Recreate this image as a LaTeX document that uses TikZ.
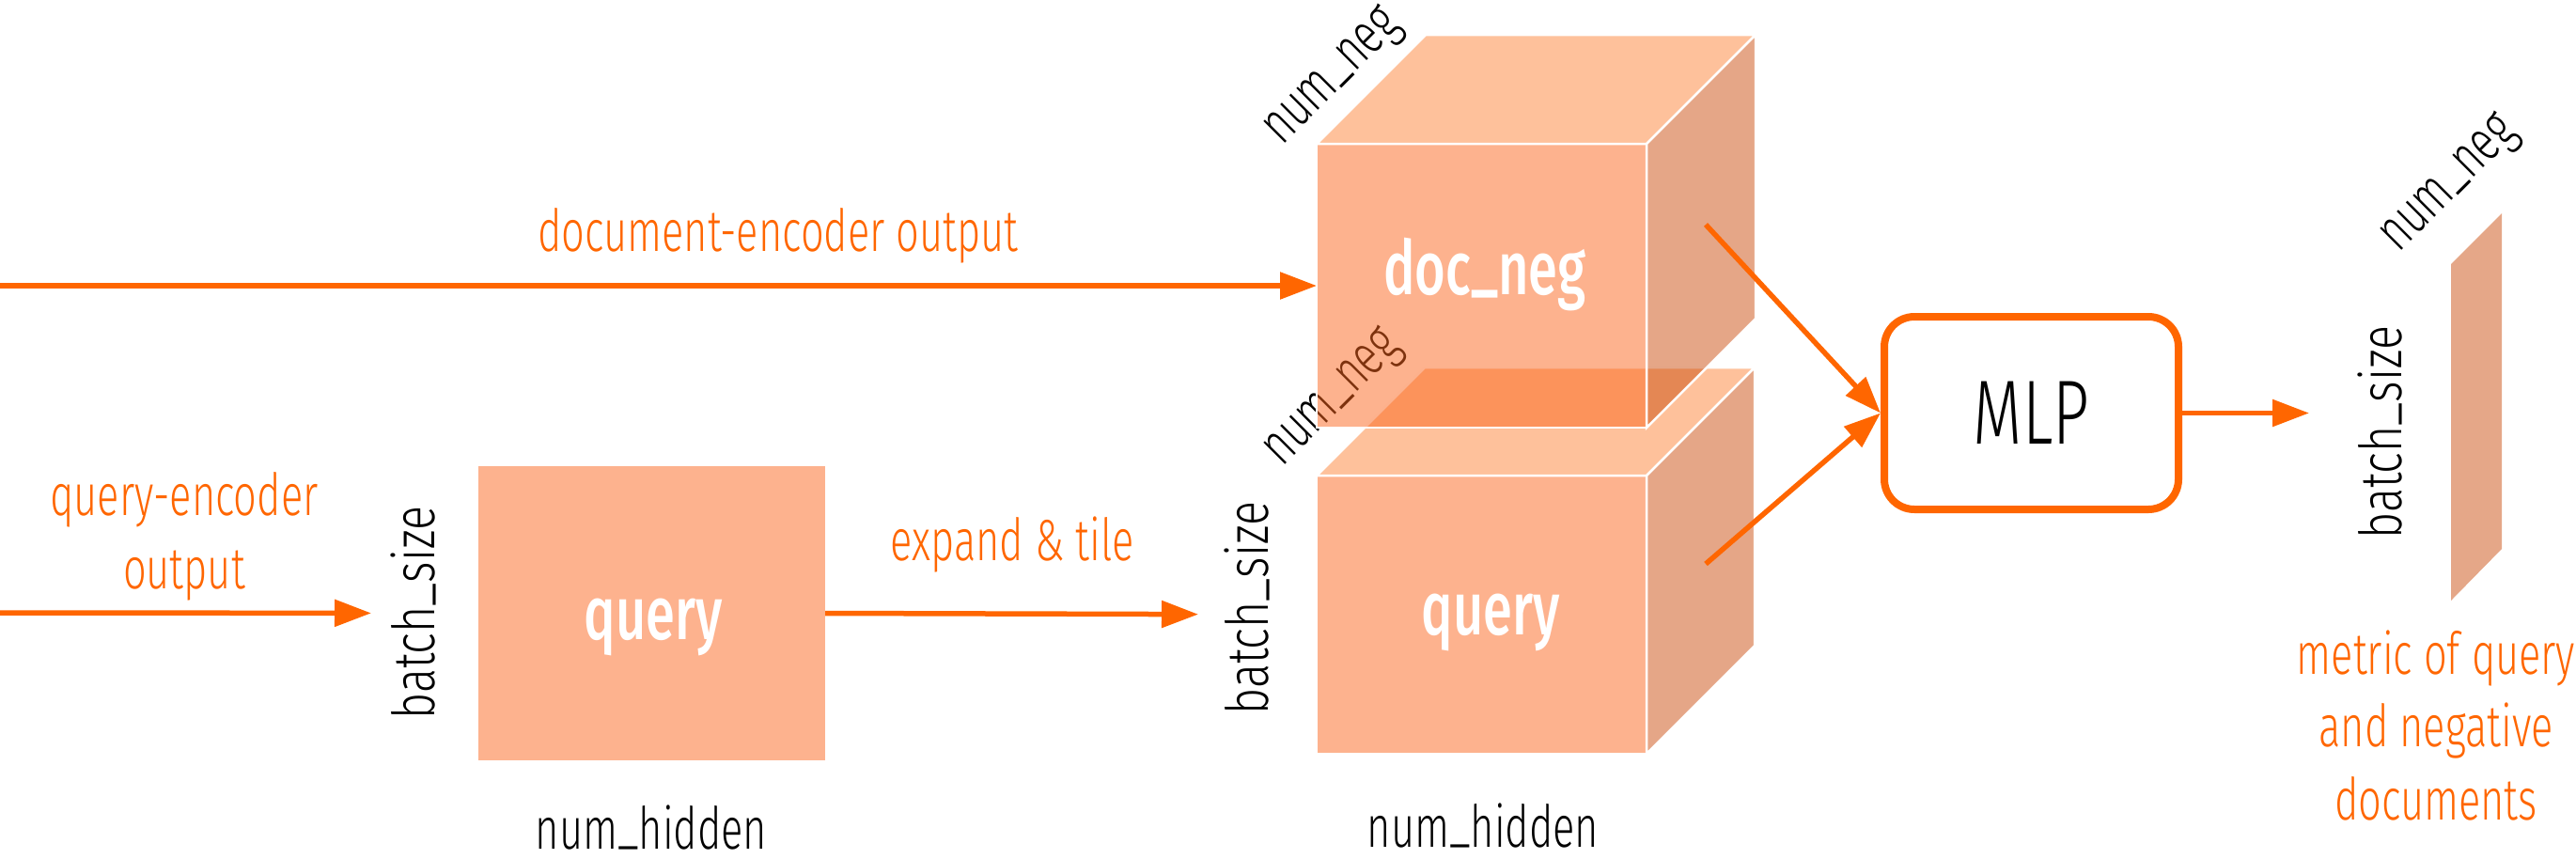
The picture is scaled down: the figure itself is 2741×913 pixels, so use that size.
\documentclass[tikz,border=0pt]{standalone}
\usepackage{fontspec}
\setmainfont{Fira Sans}[FakeStretch=0.7, UprightFont={Fira Sans Light}, BoldFont={Fira Sans Medium}]
\usetikzlibrary{arrows.meta,calc}
\definecolor{org}{RGB}{255,102,0}
\definecolor{frontc}{RGB}{251,101,29}
\definecolor{topc}{RGB}{253,131,55}
\definecolor{sidec}{RGB}{203,77,15}
\definecolor{planec}{RGB}{229,167,136}
\newcommand{\us}{\raisebox{0.11em}{\_}}
\begin{document}
\begin{tikzpicture}[x=1pt,y=-1pt,
  arr/.style={draw=org, line width=5.5pt, -{Triangle[length=39pt,width=28pt]}},
  face/.style={fill opacity=0.5, draw=white, line width=2.5pt},
  olab/.style={text=org, font=\fontsize{62}{77.5}\selectfont, inner sep=0pt, align=center},
  blab/.style={text=black, font=\fontsize{62}{77}\selectfont, inner sep=0pt},
  bslab/.style={text=black, font=\fontsize{62}{77}\selectfont\addfontfeature{FakeStretch=0.78}, inner sep=0pt, rotate=90},
  wlab/.style={text=white, font=\bfseries\fontsize{80}{90}\selectfont, inner sep=0pt},
]
\useasboundingbox (0,0) rectangle (2741,913);

% left 2D query block
\node[fill=frontc, fill opacity=0.5, minimum width=369pt, minimum height=313pt, inner sep=0pt, outer sep=0pt] (q2) at (693.5,652.5) {};

% query cube
\node[face, fill=frontc, minimum width=351pt, minimum height=296pt, inner sep=0pt, outer sep=0pt] (qF) at (1576.5,654) {};
\path[face, fill=topc] (qF.north west) -- ($(qF.north west)+(115,-115)$) -- ($(qF.north east)+(115,-115)$) -- (qF.north east) -- cycle;
\path[face, fill=sidec] (qF.north east) -- ($(qF.north east)+(115,-115)$) -- ($(qF.south east)+(115,-115)$) -- (qF.south east) -- cycle;
\node[blab, rotate=45] (nn2) at (1420,426) {num\us neg};

% doc cube (semi-transparent, drawn over)
\node[face, fill=frontc, minimum width=351pt, minimum height=302pt, inner sep=0pt, outer sep=0pt] (docF) at (1576.5,304) {};
\path[face, fill=topc] (docF.north west) -- ($(docF.north west)+(116,-116)$) -- ($(docF.north east)+(116,-116)$) -- (docF.north east) -- cycle;
\path[face, fill=sidec] (docF.north east) -- ($(docF.north east)+(116,-116)$) -- ($(docF.south east)+(116,-116)$) -- (docF.south east) -- cycle;
\node[blab, rotate=45] (nn1) at (1420,84) {num\us neg};

% output plane
\path[fill=planec] (2608,281) -- (2662,227) -- (2662,584) -- (2608,639) -- cycle;

% MLP
\node[draw=org, line width=8pt, rounded corners=32pt, fill=white, minimum width=313pt, minimum height=205pt, inner sep=0pt, font=\fontsize{97}{100}\selectfont] (mlp) at (2161.5,439.5) {MLP};

% white labels
\node[wlab, anchor=base] (lq2) at (695,680) {query};
\node[wlab, anchor=base] (ldoc) at (1580,313) {doc\us neg};
\node[wlab, anchor=base] (lqF) at (1586,675) {query};

% black labels
\node[bslab] (bs1) at (440,652) {batch\us size};
\node[bslab] (bs2) at (1327,647) {batch\us size};
\node[bslab] (bs3) at (2532,460) {batch\us size};
\node[blab, anchor=base] (nh1) at (693,903) {num\us hidden};
\node[blab, anchor=base] (nh2) at (1578,901) {num\us hidden};
\node[blab, rotate=45] (nn3) at (2608,198) {num\us neg};

% orange labels (anchor=base is the last line's baseline)
\node[olab, anchor=base] (tdoc) at (828,267) {document-encoder output};
\node[olab, anchor=base] (tq) at (196,626) {query-encoder\\output};
\node[olab, anchor=base] (tex) at (1077,596) {expand \& tile};
\node[olab, anchor=base] (tm) at (2592,872) {metric of query\\and negative\\documents};

% connectors
\coordinate (dsrc) at (0,304);
\coordinate (qsrc) at (0,652);
\coordinate (a1) at (1815,239);
\coordinate (a2) at (1815,600);
\coordinate (otip) at (2457,439.5);
\draw[arr] (dsrc) -- (docF.west);
\draw[arr, shorten >=114pt] (qsrc) -- (q2.west);
\draw[arr, shorten >=126pt] (q2.east) -- (qF.west);
\draw[arr] (a1) -- (mlp.west);
\draw[arr] (a2) -- (mlp.west);
\draw[arr] (mlp.east) -- (otip);
\end{tikzpicture}
\end{document}
